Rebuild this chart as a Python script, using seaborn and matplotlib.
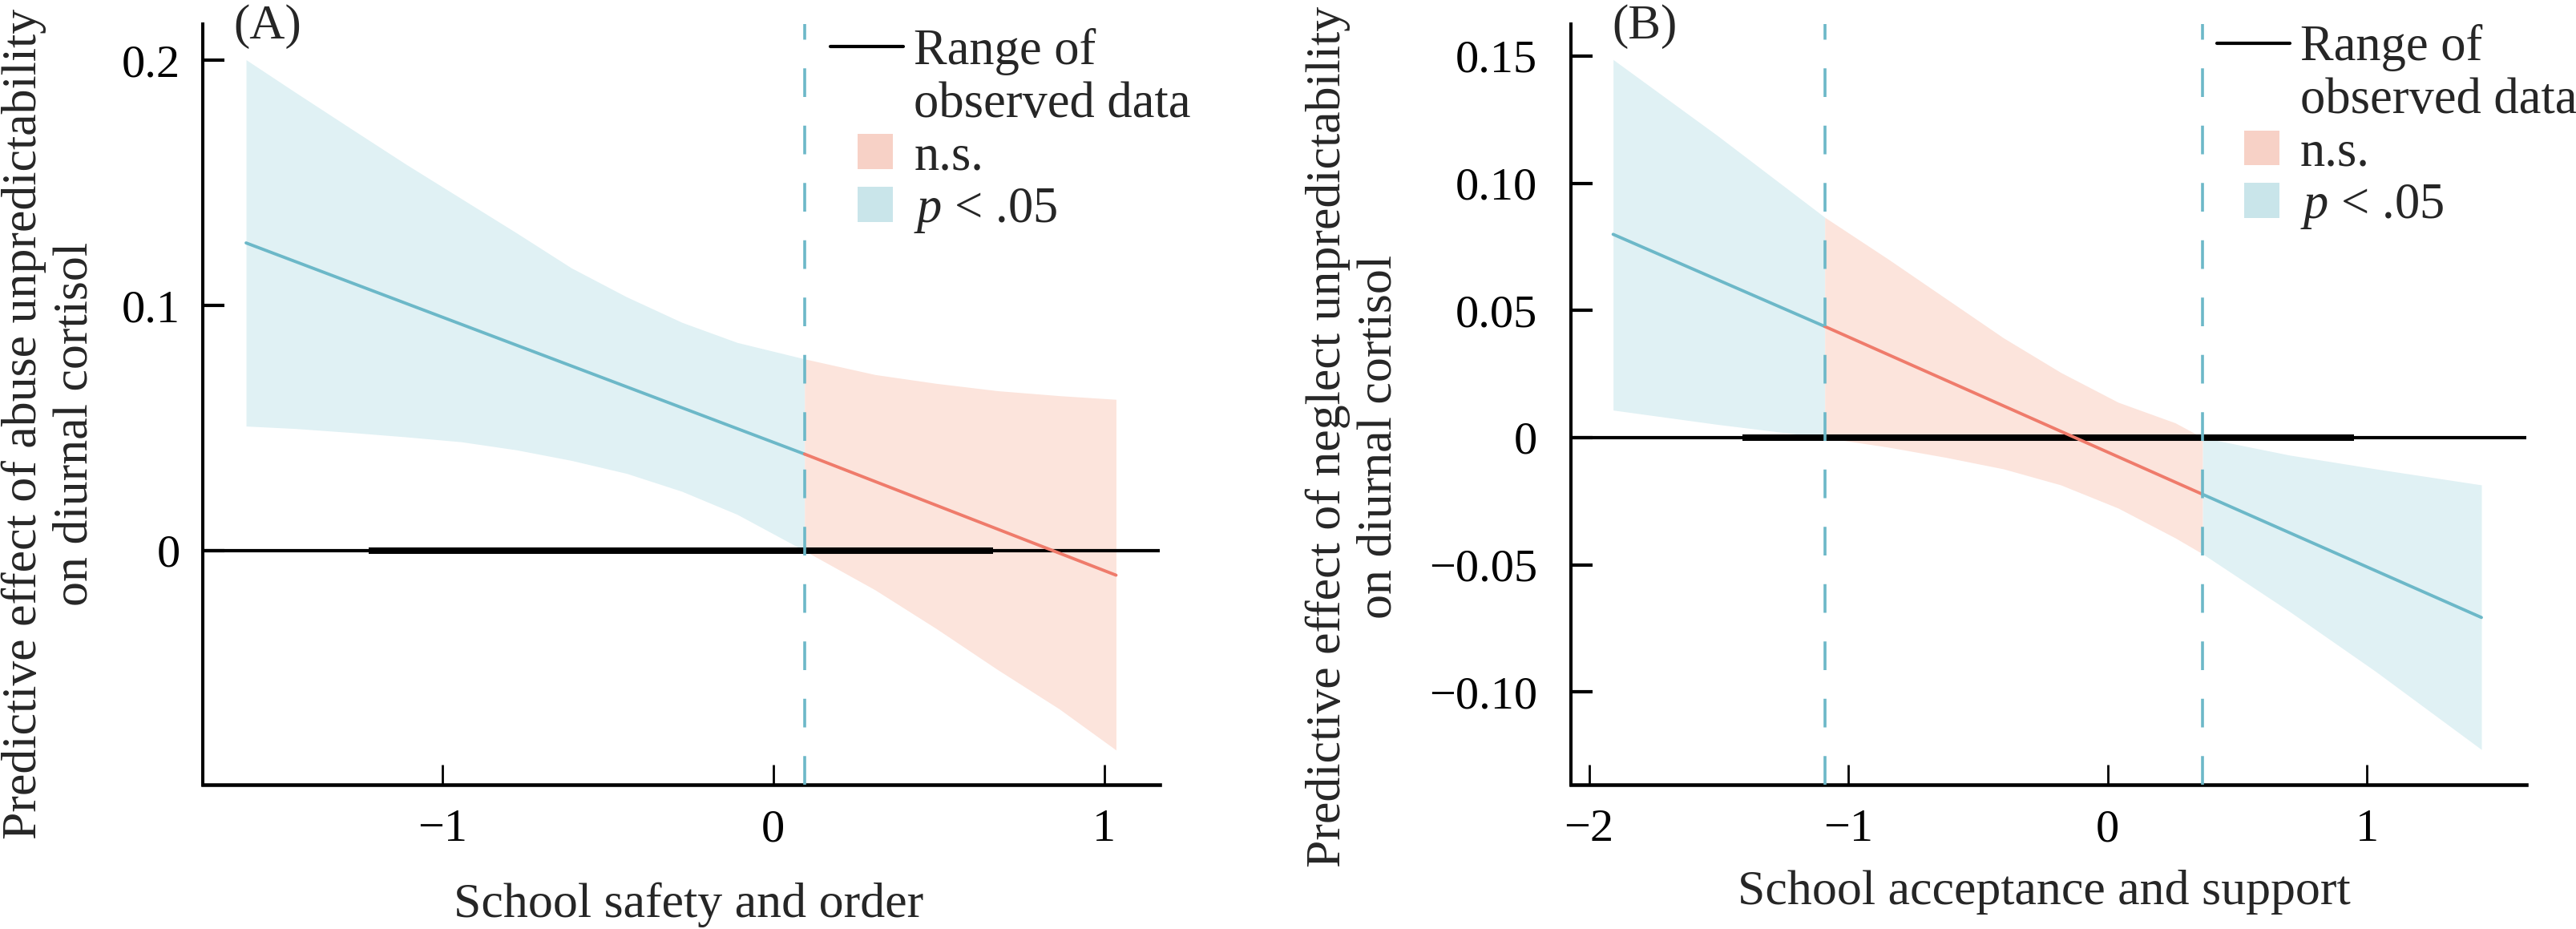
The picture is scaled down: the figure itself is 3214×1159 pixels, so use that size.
import matplotlib
matplotlib.use("Agg")
import matplotlib.pyplot as plt
import seaborn as sns
import pandas as pd
from matplotlib.lines import Line2D
from matplotlib.patches import Patch, Rectangle
from matplotlib.legend_handler import HandlerPatch

# ---------------- data ----------------
# Panel A: abuse unpredictability x school safety and order
A_jn = 0.0945                       # Johnson-Neyman point
A_range = [-1.222, 0.665]           # range of observed data
A_line_sig_x = [-1.593, 0.0945]
A_line_sig_y = [0.1255, 0.0394]
A_line_ns_x = [0.0945, 1.036]
A_line_ns_y = [0.0394, -0.0100]
A_sig_x = [-1.593, -1.444, -1.277, -1.110, -0.943, -0.776, -0.610, -0.443,
           -0.276, -0.109, 0.0945]
A_sig_up = [0.2002, 0.1869, 0.1722, 0.1576, 0.1436, 0.1296, 0.1153, 0.1035,
            0.0931, 0.0849, 0.0782]
A_sig_lo = [0.0508, 0.0498, 0.0482, 0.0464, 0.0444, 0.0411, 0.0368, 0.0315,
            0.0242, 0.0148, 0.0000]
A_ns_x = [0.0945, 0.308, 0.493, 0.679, 0.864, 1.036]
A_ns_up = [0.0782, 0.0718, 0.0682, 0.0652, 0.0632, 0.0617]
A_ns_lo = [0.0000, -0.0160, -0.0318, -0.0486, -0.0645, -0.0813]

# Panel B: neglect unpredictability x school acceptance and support
B_jn = [-1.091, 0.366]
B_range = [-1.4085, 0.949]
B_line_x = [-1.907, -1.091, 0.366, 1.441]
B_line_y = [0.0799, 0.0437, -0.0223, -0.0707]
B_sig1_x = [-1.907, -1.506, -1.091]
B_sig1_up = [0.1486, 0.1188, 0.0866]
B_sig1_lo = [0.0108, 0.0052, 0.0000]
B_ns_x = [-1.091, -0.844, -0.623, -0.402, -0.181, 0.040, 0.260, 0.366]
B_ns_up = [0.0866, 0.0700, 0.0546, 0.0392, 0.0256, 0.0139, 0.0058, 0.0000]
B_ns_lo = [0.0000, -0.0038, -0.0078, -0.0123, -0.0186, -0.0277, -0.0394, -0.0457]
B_sig2_x = [0.366, 0.702, 1.033, 1.441]
B_sig2_up = [0.0000, -0.0069, -0.0123, -0.0186]
B_sig2_lo = [-0.0457, -0.0684, -0.0919, -0.1226]

A_xticks = [-1, 0, 1]
A_xticklabels = ["\u22121", "0", "1"]
A_yticks = [0, 0.1, 0.2]
A_yticklabels = ["0", "0.1", "0.2"]
B_xticks = [-2, -1, 0, 1]
B_xticklabels = ["\u22122", "\u22121", "0", "1"]
B_yticks = [-0.10, -0.05, 0, 0.05, 0.10, 0.15]
B_yticklabels = ["\u22120.10", "\u22120.05", "0", "0.05", "0.10", "0.15"]

A_xlabel = "School safety and order"
A_ylabel = "Predictive effect of abuse unpredictability\non diurnal cortisol"
B_xlabel = "School acceptance and support"
B_ylabel = "Predictive effect of neglect unpredictability\non diurnal cortisol"
legend_labels = ["Range of", "observed data", "n.s.", "$p$ < .05"]

# ---------------- style ----------------
sns.set_theme(style="ticks")
plt.rcParams["font.family"] = ["Liberation Serif", "DejaVu Serif"]
plt.rcParams["mathtext.fontset"] = "custom"
plt.rcParams["mathtext.it"] = "Liberation Serif:italic"
plt.rcParams["mathtext.rm"] = "Liberation Serif"
plt.rcParams["axes.unicode_minus"] = True

BLUE_LINE = "#6cb8c8"
RED_LINE = "#ef7b6b"
BLUE_BAND = "#e0f1f4"
PINK_BAND = "#fce4dc"
BLUE_PATCH = "#c9e5ea"
PINK_PATCH = "#f7d1c6"

fig = plt.figure(figsize=(16.07, 5.795), dpi=200)
axA = fig.add_axes([0.0787, 0.1557, 0.3715, 0.818])
axB = fig.add_axes([0.6098, 0.1557, 0.3709, 0.818])


def seg(ax, xs, ys, color):
    df = pd.DataFrame({"x": xs, "y": ys})
    sns.lineplot(data=df, x="x", y="y", ax=ax, color=color, lw=1.4,
                 estimator=None, sort=False, zorder=4)


def band(ax, xs, lo, up, color):
    ax.fill_between(xs, lo, up, color=color, lw=0, zorder=1)


def square_patch(legend, orig_handle, xdescent, ydescent, width, height, fontsize):
    return Rectangle((-xdescent + width - 1.3 * height, -ydescent), height, height)


def style_axes(ax, xlim, ylim, xt, xtl, yt, ytl, ypad):
    ax.set_xlim(*xlim)
    ax.set_ylim(*ylim)
    ax.set_xticks(xt)
    ax.set_xticklabels(xtl)
    ax.set_yticks(yt)
    ax.set_yticklabels(ytl)
    for s in ["top", "right"]:
        ax.spines[s].set_visible(False)
    ax.spines["left"].set_linewidth(1.45)
    ax.spines["bottom"].set_linewidth(1.65)
    ax.spines["left"].set_color("black")
    ax.spines["bottom"].set_color("black")
    ax.tick_params(axis="x", direction="in", length=9, width=1.0, pad=11,
                   labelsize=21, colors="black")
    ax.tick_params(axis="y", direction="in", length=9.7, width=1.5, pad=ypad,
                   labelsize=21, colors="black")


def add_legend(ax, x, y):
    handles = [Line2D([], [], color="black", lw=1.5),
               Line2D([], [], color="none", lw=0),
               Patch(facecolor=PINK_PATCH, edgecolor="none"),
               Patch(facecolor=BLUE_PATCH, edgecolor="none")]
    leg = ax.legend(handles, legend_labels, loc="upper left",
                    bbox_to_anchor=(x, y), frameon=False, fontsize=22.5,
                    borderpad=0, borderaxespad=0, handlelength=1.46,
                    handleheight=0.7, handletextpad=0.21, labelspacing=0.12,
                    handler_map={Patch: HandlerPatch(patch_func=square_patch)})
    return leg


# ---------------- Panel A ----------------
band(axA, A_sig_x, A_sig_lo, A_sig_up, BLUE_BAND)
band(axA, A_ns_x, A_ns_lo, A_ns_up, PINK_BAND)
axA.axhline(0, color="black", lw=1.5, zorder=3)
axA.plot(A_range, [0, 0], color="black", lw=2.9, solid_capstyle="butt", zorder=3)
seg(axA, A_line_sig_x, A_line_sig_y, BLUE_LINE)
seg(axA, A_line_ns_x, A_line_ns_y, RED_LINE)
axA.axvline(A_jn, color=BLUE_LINE, lw=1.3, dashes=(9.9, 9.9), zorder=5)
style_axes(axA, (-1.724, 1.168), (-0.0953, 0.2146), A_xticks, A_xticklabels,
           A_yticks, A_yticklabels, 10)
axA.set_xlabel(A_xlabel, fontsize=22.3)
axA.set_ylabel(A_ylabel, fontsize=22.3)
axA.xaxis.set_label_coords(0.508, -0.129)
axA.yaxis.set_label_coords(-0.1097, 0.474)
axA.text(0.032, 0.9817, "(A)", transform=axA.transAxes, fontsize=22,
         va="baseline", ha="left")
add_legend(axA, 0.6558, 0.995)

# ---------------- Panel B ----------------
band(axB, B_sig1_x, B_sig1_lo, B_sig1_up, BLUE_BAND)
band(axB, B_ns_x, B_ns_lo, B_ns_up, PINK_BAND)
band(axB, B_sig2_x, B_sig2_lo, B_sig2_up, BLUE_BAND)
axB.axhline(0, color="black", lw=1.5, zorder=3)
axB.plot(B_range, [0, 0], color="black", lw=2.9, solid_capstyle="butt", zorder=3)
seg(axB, B_line_x[0:2], B_line_y[0:2], BLUE_LINE)
seg(axB, B_line_x[1:3], B_line_y[1:3], RED_LINE)
seg(axB, B_line_x[2:4], B_line_y[2:4], BLUE_LINE)
for xv in B_jn:
    axB.axvline(xv, color=BLUE_LINE, lw=1.3, dashes=(9.9, 9.9), zorder=5)
style_axes(axB, (-2.07, 1.614), (-0.1363, 0.1624), B_xticks, B_xticklabels,
           B_yticks, B_yticklabels, 15)
axB.set_xlabel(B_xlabel, fontsize=22.3)
axB.set_ylabel(B_ylabel, fontsize=22.3)
axB.xaxis.set_label_coords(0.495, -0.112)
axB.yaxis.set_label_coords(-0.177, 0.457)
axB.text(0.0436, 0.9817, "(B)", transform=axB.transAxes, fontsize=22,
         va="baseline", ha="left")
add_legend(axB, 0.676, 1.0)

fig.savefig("out.png", dpi=200)
